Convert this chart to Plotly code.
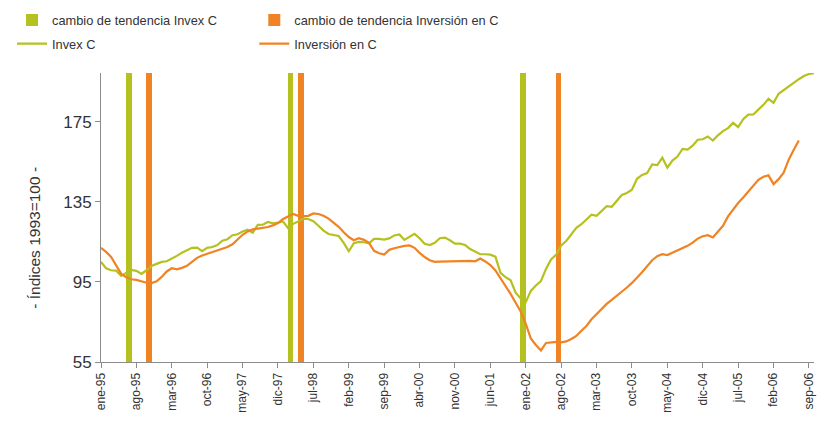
import plotly.graph_objects as go

# ---------------- data ----------------
tick_labels = ["ene-95", "ago-95", "mar-96", "oct-96", "may-97", "dic-97", "jul-98",
               "feb-99", "sep-99", "abr-00", "nov-00", "jun-01", "ene-02", "ago-02",
               "mar-03", "oct-03", "may-04", "dic-04", "jul-05", "feb-06", "sep-06"]
tick_step = 7  # months between labelled ticks

invex_c = [105, 101.8, 100.8, 100.6, 98, 99.5, 101, 100.5, 99, 100.8,
           103, 104, 105, 105.3, 106.5, 108, 109.6, 111, 112, 112.1,
           110.3, 112, 112.4, 113.4, 115.6, 116.3, 118.3, 118.8, 120.2, 121,
           119.5, 123.5, 123.6, 124.9, 124.2, 124.6, 125.2, 121.8, 124, 125.2,
           126.6, 126.4, 125.3, 123, 120.6, 118.9, 118.3, 117.9, 114.5, 110.3,
           114.3, 115, 114.8, 114.3, 116.5, 116.5, 116.1, 116.7, 118.2, 118.7,
           116, 117.3, 119, 116.8, 114, 113.4, 114.5, 116.8, 117.1, 115.8,
           114.1, 114.1, 113.4, 111.4, 110, 108.8, 108.8, 108.6, 107.6, 99.5,
           97.4, 95.8, 89.6, 86.7, 84.9, 90.5, 93.2, 95.4, 101.5, 106.2,
           108.5, 113.2, 115.4, 118.5, 122, 123.8, 126.3, 128.6, 128, 130.6,
           132.8, 132.5, 135.3, 138.4, 139.4, 141, 146.5, 148.4, 149.3, 153.7,
           153.3, 157, 152, 155.6, 157.6, 161.4, 161, 163, 166, 166.2,
           167.6, 165.6, 168.2, 170.3, 171.8, 174.4, 172.3, 176.2, 178.5, 178.6,
           181, 183.4, 186.4, 184.4, 188.9, 190.8, 192.3, 194.6, 196.2, 197.8,
           198.8, 199.2]

inversion_c = [112, 110, 107.5, 103, 99, 97.3, 96.3, 96, 95.3, 94.6,
               94.4, 95.3, 97.5, 100.2, 101.8, 101.3, 102, 103, 105, 107,
               108.2, 109, 110, 110.5, 111.3, 112.4, 113.8, 116, 118.5, 120.2,
               121.2, 121.6, 122, 122.4, 123.2, 124.4, 126.4, 127.8, 128.9, 128,
               127.8, 128, 129.2, 128.9, 128, 126.6, 124.6, 122.5, 119.8, 117.4,
               115.8, 116.8, 116, 114.5, 110.5, 109.3, 108.7, 111, 111.8, 112.4,
               113, 113.2, 112, 109.5, 107.4, 105.8, 105, 105.1, 105.2, 105.3,
               105.5, 105.5, 105.5, 105.5, 105.3, 106.7, 105.2, 103.4, 100.7, 97,
               93, 89, 84.6, 80.2, 74, 66.8, 63.5, 60.8, 64.5, 64.8,
               65, 64.8, 65.3, 66.5, 68, 70.6, 73, 76.3, 79, 81.5,
               84, 86, 88, 90, 92.2, 94.5, 97, 99.8, 102.8, 105.8,
               107.8, 108.8, 108.4, 109.6, 110.5, 111.6, 113, 114.6, 116.6, 117.8,
               118.3, 117.2, 119.9, 123, 127.7, 131.1, 134.4, 137.1, 140, 142.6,
               146, 147.5, 148.2, 143.8, 146.3, 149.5, 156, 161, 165.6]

# months (index from ene-95) where each trend change is marked
cambio_invex = [5, 37, 83]        # jun-95, feb-98, dic-01
cambio_inversion = [9, 39, 90]    # oct-95, abr-98, jul-02

y_min, y_max = 55, 199.3
y_ticks = [55, 95, 135, 175]

GREEN = "#B5C11E"
ORANGE = "#F08323"
AXIS = "#8C8C8C"
TEXT = "#333333"
FONT = "Liberation Sans, Arial, sans-serif"

fig = go.Figure()

fig.add_trace(go.Bar(
    x=cambio_invex, y=[y_max - y_min] * len(cambio_invex), base=y_min,
    width=1.1, offset=-0.05, marker=dict(color=GREEN, line=dict(width=0)),
    name="cambio de tendencia Invex C", legend="legend", legendgroup="a"))
fig.add_trace(go.Bar(
    x=cambio_inversion, y=[y_max - y_min] * len(cambio_inversion), base=y_min,
    width=1.1, offset=-0.05, marker=dict(color=ORANGE, line=dict(width=0)),
    name="cambio de tendencia Inversión en C", legend="legend2", legendgroup="c"))
fig.add_trace(go.Scatter(
    x=list(range(len(invex_c))), y=invex_c, mode="lines",
    line=dict(color=GREEN, width=2.2), name="Invex C", legend="legend", legendgroup="b"))
fig.add_trace(go.Scatter(
    x=list(range(len(inversion_c))), y=inversion_c, mode="lines",
    line=dict(color=ORANGE, width=2.2), name="Inversión en C", legend="legend2", legendgroup="d"))

legend_common = dict(xanchor="left", yanchor="top", orientation="v",
                     xref="container", yref="container",
                     bgcolor="rgba(0,0,0,0)", font=dict(family=FONT, size=12.8, color=TEXT),
                     tracegroupgap=4, itemwidth=30)

fig.update_layout(
    width=824, height=428,
    margin=dict(l=101, r=10, t=73, b=66, autoexpand=False),
    plot_bgcolor="white", paper_bgcolor="white",
    barmode="overlay", bargap=0,
    font=dict(family=FONT, color=TEXT),
    showlegend=True,
    legend=dict(x=0.0146, y=0.988, **legend_common),
    legend2=dict(x=0.3086, y=0.988, **legend_common),
    xaxis=dict(range=[0, 141], tickmode="array",
               tickvals=[i * tick_step for i in range(len(tick_labels))],
               ticktext=tick_labels, tickangle=-90,
               showgrid=False, zeroline=False, showline=True, linecolor=AXIS, linewidth=1,
               ticks="outside", ticklen=5, tickcolor=AXIS,
               tickfont=dict(family=FONT, size=12, color=TEXT)),
    yaxis=dict(range=[y_min, y_max], tickmode="array", tickvals=y_ticks,
               showgrid=False, zeroline=False, showline=True, linecolor=AXIS, linewidth=1,
               ticks="outside", ticklen=5, tickcolor=AXIS,
               tickfont=dict(family=FONT, size=17, color=TEXT)),
    annotations=[dict(text="- Índices 1993=100 -", textangle=-90,
                      xref="paper", yref="paper", x=-0.0926, y=0.43,
                      xanchor="center", yanchor="middle",
                      showarrow=False, font=dict(family=FONT, size=15.5, color=TEXT))],
)

fig.write_html("out.html", config={"displayModeBar": False},
               post_script="document.body.style.margin='0';document.body.style.overflow='hidden';")
